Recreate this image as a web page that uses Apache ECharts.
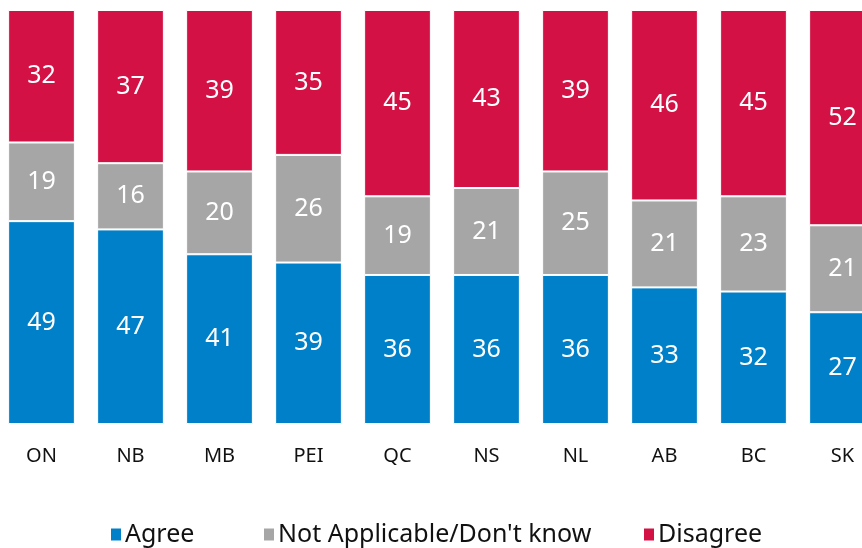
<!DOCTYPE html>
<html>
<head>
<meta charset="utf-8">
<script src="https://cdn.jsdelivr.net/npm/echarts@6/dist/echarts.min.js"></script>
<style>
  html, body { margin: 0; padding: 0; background: #fff; }
  #main { width: 862px; height: 548px; }
</style>
</head>
<body>
<div id="main"></div>
<script>
var regions = ['ON', 'NB', 'MB', 'PEI', 'QC', 'NS', 'NL', 'AB', 'BC', 'SK'];
var agree = [49, 47, 41, 39, 36, 36, 36, 33, 32, 27];
var notApplicable = [19, 16, 20, 26, 19, 21, 25, 21, 23, 21];
var disagree = [32, 37, 39, 35, 45, 43, 39, 46, 45, 52];
var seriesNames = ['Agree', 'Not Applicable/Don\'t know', 'Disagree'];

var font = '"Noto Sans", "Open Sans", sans-serif';

function makeSeries(name, data, color) {
    return {
        name: name,
        type: 'bar',
        stack: 'total',
        data: data,
        barCategoryGap: '25%',
        itemStyle: { color: color, borderColor: '#fff', borderWidth: 1 },
        label: {
            show: true,
            position: 'inside',
            color: '#fff',
            fontSize: 25,
            fontFamily: font
        }
    };
}

// one legend per item so the spacing can follow the reference
function makeLegend(name, left) {
    return {
        top: 517,
        left: left,
        itemWidth: 12,
        itemHeight: 14,
        icon: 'rect',
        textStyle: { fontSize: 25, color: '#111', fontFamily: font, padding: [0, 0, 0, -2] },
        data: [name]
    };
}

var myChart = echarts.init(document.getElementById('main'));
myChart.setOption({
    animation: false,
    grid: { left: -3, top: 10, width: 890, height: 414, outerBoundsMode: 'none' },
    legend: [
        makeLegend(seriesNames[0], 104),
        makeLegend(seriesNames[1], 257),
        makeLegend(seriesNames[2], 637)
    ],
    xAxis: {
        type: 'category',
        data: regions,
        axisLine: { show: false },
        axisTick: { show: false },
        axisLabel: { color: '#111', fontSize: 20, fontFamily: font, margin: 22 }
    },
    yAxis: {
        type: 'value',
        min: 0,
        max: 100,
        show: false
    },
    series: [
        makeSeries(seriesNames[0], agree, '#0080c9'),
        makeSeries(seriesNames[1], notApplicable, '#a6a6a6'),
        makeSeries(seriesNames[2], disagree, '#d31145')
    ]
});
</script>
</body>
</html>
